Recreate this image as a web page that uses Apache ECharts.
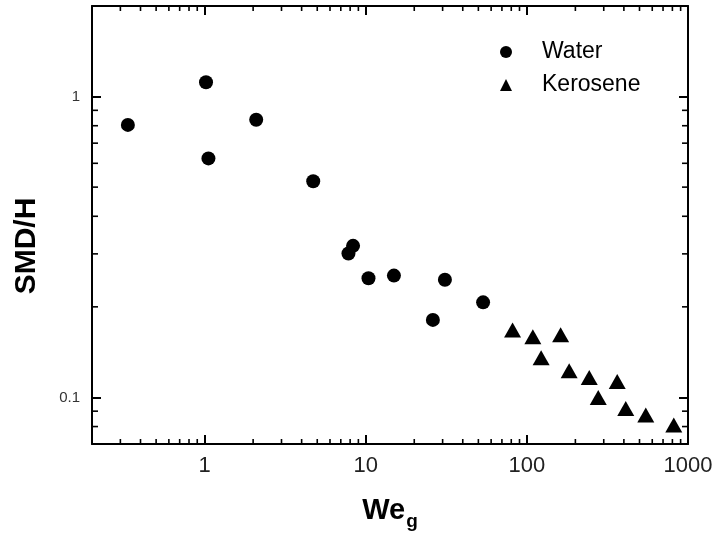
<!DOCTYPE html>
<html>
<head>
<meta charset="utf-8">
<script src="https://cdn.jsdelivr.net/npm/echarts@6/dist/echarts.min.js"></script>
<style>
  html, body { margin: 0; padding: 0; background: #ffffff; }
  #chart { width: 717px; height: 542px; }
</style>
</head>
<body>
<div id="chart"></div>
<script>
// Gas Weber number vs. Sauter mean diameter normalised by H
const waterWe  = [0.334, 1.02, 1.056, 2.09, 4.72, 7.81, 8.34, 10.4, 14.96, 31.0, 26.1, 53.5];
const waterSMD = [0.805, 1.116, 0.623, 0.837, 0.523, 0.301, 0.319, 0.249, 0.254, 0.246, 0.181, 0.207];

const keroWe  = [81.5, 108.9, 162, 122.6, 183, 243.8, 363.7, 277.3, 410.8, 547, 816];
const keroSMD = [0.1676, 0.159, 0.1616, 0.1355, 0.1226, 0.1165, 0.113, 0.100, 0.0919, 0.0874, 0.0809];

const xRange = [0.2, 1000];
const yRange = [0.07, 2];

// minor tick positions (drawn on both sides of the frame)
const xMinorTicks = [0.3, 0.4, 0.5, 0.6, 0.7, 0.8, 0.9,
                     2, 3, 4, 5, 6, 7, 8, 9,
                     20, 30, 40, 50, 60, 70, 80, 90,
                     200, 300, 400, 500, 600, 700, 800, 900];
const yMinorTicks = [0.08, 0.09, 0.2, 0.3, 0.4, 0.5, 0.6, 0.7, 0.8, 0.9];

const FONT = 'Liberation Sans, Arial, sans-serif';

function isDecade(v) {
  const e = Math.log10(v);
  return Math.abs(e - Math.round(e)) < 1e-6;
}
function decadeLabel(v) {
  if (!isDecade(v)) return '';
  const e = Math.round(Math.log10(v));
  return e >= 0 ? String(Math.pow(10, e)) : (Math.pow(10, e)).toFixed(-e);
}

const axisLineStyle = { color: '#000', width: 2 };
const majorTick = { show: true, inside: true, length: 9, lineStyle: { color: '#000', width: 2 } };

function xTickItem(params, api) {
  const cs = params.coordSys;
  const x = api.coord([api.value(0), yRange[0]])[0];
  const yb = cs.y + cs.height, yt = cs.y;
  const st = { stroke: '#000', lineWidth: 1.6 };
  return { type: 'group', children: [
    { type: 'line', shape: { x1: x, y1: yb, x2: x, y2: yb - 5 }, style: st },
    { type: 'line', shape: { x1: x, y1: yt, x2: x, y2: yt + 5 }, style: st }
  ]};
}
function yTickItem(params, api) {
  const cs = params.coordSys;
  const y = api.coord([xRange[0], api.value(1)])[1];
  const xl = cs.x, xr = cs.x + cs.width;
  const st = { stroke: '#000', lineWidth: 1.6 };
  return { type: 'group', children: [
    { type: 'line', shape: { x1: xl, y1: y, x2: xl + 6, y2: y }, style: st },
    { type: 'line', shape: { x1: xr, y1: y, x2: xr - 6, y2: y }, style: st }
  ]};
}

const chart = echarts.init(document.getElementById('chart'), null, { renderer: 'canvas' });

chart.setOption({
  animation: false,
  backgroundColor: '#ffffff',
  textStyle: { fontFamily: FONT },
  grid: { left: 92, top: 6, right: 29, bottom: 98, containLabel: false },
  legend: {
    orient: 'vertical',
    left: 495,
    top: 34,
    itemWidth: 12,
    itemHeight: 12,
    itemGap: 7,
    data: [
      { name: 'Water', icon: 'circle', itemStyle: { color: '#000', opacity: 1 } },
      { name: 'Kerosene', icon: 'triangle', itemStyle: { color: '#000', opacity: 1 } }
    ],
    textStyle: { fontSize: 23, color: '#000', fontFamily: FONT, lineHeight: 26, padding: [0, 0, 0, 25] }
  },
  xAxis: [
    {
      type: 'log', logBase: 10, min: xRange[0], max: xRange[1], position: 'bottom',
      axisLine: { show: true, lineStyle: axisLineStyle },
      axisTick: majorTick,
      splitLine: { show: false },
      axisLabel: { formatter: decadeLabel, fontSize: 22, color: '#222', margin: 11, fontFamily: FONT },
      name: '{a|We}{b|g}',
      nameLocation: 'middle',
      nameGap: 46,
      nameTextStyle: {
        rich: {
          a: { fontSize: 29, fontWeight: 'bold', color: '#000', fontFamily: FONT },
          b: { fontSize: 19, fontWeight: 'bold', color: '#000', fontFamily: FONT, padding: [22, 0, 0, 1] }
        }
      }
    },
    {
      type: 'log', logBase: 10, min: xRange[0], max: xRange[1], position: 'top',
      axisLine: { show: true, lineStyle: axisLineStyle },
      axisTick: majorTick,
      splitLine: { show: false },
      axisLabel: { show: false }
    }
  ],
  yAxis: [
    {
      type: 'log', logBase: 10, min: yRange[0], max: yRange[1], position: 'left',
      axisLine: { show: true, lineStyle: axisLineStyle },
      axisTick: majorTick,
      splitLine: { show: false },
      axisLabel: { formatter: decadeLabel, fontSize: 15, color: '#333', margin: 12, fontFamily: FONT },
      name: 'SMD/H',
      nameLocation: 'middle',
      nameGap: 50,
      nameTextStyle: { fontSize: 30, fontWeight: 'bold', color: '#000', fontFamily: FONT, padding: [0, 42, 0, 0] }
    },
    {
      type: 'log', logBase: 10, min: yRange[0], max: yRange[1], position: 'right',
      axisLine: { show: true, lineStyle: axisLineStyle },
      axisTick: majorTick,
      splitLine: { show: false },
      axisLabel: { show: false }
    }
  ],
  series: [
    {
      name: 'Water', type: 'scatter', symbol: 'circle', symbolSize: 14,
      itemStyle: { color: '#000', opacity: 1 },
      data: waterWe.map((x, i) => [x, waterSMD[i]])
    },
    {
      name: 'Kerosene', type: 'scatter', symbol: 'triangle', symbolSize: [17, 15],
      itemStyle: { color: '#000', opacity: 1 },
      data: keroWe.map((x, i) => [x, keroSMD[i]])
    },
    {
      name: 'xMinor', type: 'custom', silent: true, renderItem: xTickItem,
      data: xMinorTicks.map(v => [v, yRange[0]]), z: 5
    },
    {
      name: 'yMinor', type: 'custom', silent: true, renderItem: yTickItem,
      data: yMinorTicks.map(v => [xRange[0], v]), z: 5
    }
  ]
});
</script>
</body>
</html>
